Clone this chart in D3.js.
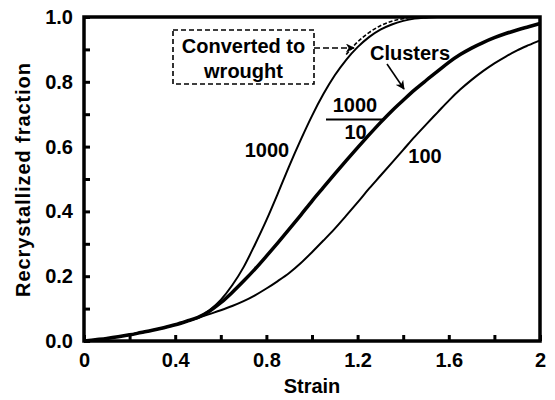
<!DOCTYPE html>
<html>
<head>
<meta charset="utf-8">
<script src="https://cdn.jsdelivr.net/npm/d3@7"></script>
<style>
  html, body { margin: 0; padding: 0; background: #fff; }
  svg { display: block; }
  text { font-family: "Liberation Sans", Arial, sans-serif; font-weight: bold; fill: #000; }
</style>
</head>
<body>
<svg id="chart" width="555" height="400"></svg>
<script>
// Strain grid shared by the three recrystallization curves
const strain = [0, 0.05, 0.1, 0.15, 0.2, 0.25, 0.3, 0.35, 0.4, 0.45, 0.5,
                0.55, 0.6, 0.65, 0.7, 0.75, 0.8, 0.85, 0.9, 0.95, 1.0,
                1.05, 1.1, 1.15, 1.2, 1.25, 1.3, 1.35, 1.4, 1.45, 1.5,
                1.55, 1.6, 1.65, 1.7, 1.75, 1.8, 1.85, 1.9, 1.95, 2.0];

// Recrystallized fraction for each grain-size ratio
const frac1000 = [0, 0.004, 0.008, 0.013, 0.019, 0.026, 0.033, 0.041, 0.05, 0.061, 0.073,
                  0.095, 0.127, 0.172, 0.228, 0.298, 0.373, 0.455, 0.54, 0.62, 0.695,
                  0.762, 0.82, 0.868, 0.907, 0.938, 0.961, 0.977, 0.988, 0.995, 0.998,
                  1.0, 1.0, 1.0, 1.0, 1.0, 1.0, 1.0, 1.0, 1.0, 1.0];
const frac1000over10 = [0, 0.004, 0.008, 0.013, 0.019, 0.026, 0.033, 0.041, 0.05, 0.061, 0.073,
                        0.092, 0.118, 0.15, 0.185, 0.222, 0.262, 0.303, 0.345, 0.388, 0.432,
                        0.474, 0.516, 0.557, 0.597, 0.636, 0.674, 0.71, 0.743, 0.775, 0.804,
                        0.832, 0.86, 0.884, 0.904, 0.921, 0.936, 0.949, 0.96, 0.97, 0.98];
const frac100 = [0, 0.004, 0.008, 0.013, 0.019, 0.026, 0.033, 0.041, 0.05, 0.06, 0.071,
                 0.083, 0.095, 0.108, 0.123, 0.141, 0.162, 0.185, 0.21, 0.24, 0.274,
                 0.31, 0.347, 0.387, 0.428, 0.47, 0.51, 0.55, 0.59, 0.63, 0.668,
                 0.705, 0.742, 0.776, 0.806, 0.833, 0.857, 0.878, 0.897, 0.913, 0.928];

// "Converted to wrought" curve near full recrystallization
const wroughtStrain = [1.15, 1.2, 1.25, 1.3, 1.35, 1.4, 1.45];
const wroughtFrac   = [0.884, 0.923, 0.952, 0.973, 0.987, 0.995, 1.0];

// Axis ticks
const xTicks = [0, 0.2, 0.4, 0.6, 0.8, 1.0, 1.2, 1.4, 1.6, 1.8, 2.0];
const xTickLabels = ["0", "", "0.4", "", "0.8", "", "1.2", "", "1.6", "", "2"];
const yTicks = [0, 0.1, 0.2, 0.3, 0.4, 0.5, 0.6, 0.7, 0.8, 0.9, 1.0];
const yTickLabels = ["0.0", "", "0.2", "", "0.4", "", "0.6", "", "0.8", "", "1.0"];

const svg = d3.select("#chart");
const m = { left: 84, right: 540, top: 17, bottom: 341 };

const x = d3.scaleLinear().domain([0, 2]).range([m.left, m.right]);
const y = d3.scaleLinear().domain([0, 1]).range([m.bottom, m.top]);

// Arrow marker
svg.append("defs").append("marker")
  .attr("id", "arrow")
  .attr("viewBox", "0 0 10 10")
  .attr("refX", 9).attr("refY", 5)
  .attr("markerWidth", 9).attr("markerHeight", 9)
  .attr("markerUnits", "userSpaceOnUse")
  .attr("orient", "auto")
  .append("path")
  .attr("d", "M0,0 L10,5 L0,10 L3,5 Z")
  .attr("fill", "#000");

// Curves
const line = d3.line()
  .x(d => x(d[0]))
  .y(d => y(d[1]))
  .curve(d3.curveMonotoneX);

const series = [
  { vals: frac100, width: 2 },
  { vals: frac1000, width: 2 },
  { vals: frac1000over10, width: 3.5 }
];

svg.append("g").selectAll("path")
  .data(series)
  .join("path")
  .attr("d", s => line(strain.map((t, i) => [t, s.vals[i]])))
  .attr("fill", "none")
  .attr("stroke", "#000")
  .attr("stroke-width", s => s.width)
  .attr("stroke-linejoin", "round");

svg.append("path")
  .attr("d", line(wroughtStrain.map((t, i) => [t, wroughtFrac[i]])))
  .attr("fill", "none")
  .attr("stroke", "#000")
  .attr("stroke-width", 1.6)
  .attr("stroke-dasharray", "4,2");

// Axes: ticks point inward
const yAxis = d3.axisLeft(y)
  .tickValues(yTicks)
  .tickSize(-6)
  .tickPadding(11)
  .tickFormat((d, i) => yTickLabels[i]);
const xAxis = d3.axisBottom(x)
  .tickValues(xTicks)
  .tickSize(-6)
  .tickPadding(12)
  .tickFormat((d, i) => xTickLabels[i]);

const gy = svg.append("g").attr("transform", `translate(${m.left},0)`).call(yAxis);
const gx = svg.append("g").attr("transform", `translate(0,${m.bottom})`).call(xAxis);
[gx, gy].forEach(g => {
  g.select(".domain").remove();
  g.selectAll(".tick line").attr("stroke", "#000").attr("stroke-width", 3);
  g.selectAll(".tick text")
    .style("font-size", "20px")
    .style("font-family", "Liberation Sans, Arial, sans-serif")
    .style("font-weight", "bold");
});

// Frame
svg.append("rect")
  .attr("x", m.left).attr("y", m.top)
  .attr("width", m.right - m.left).attr("height", m.bottom - m.top)
  .attr("fill", "none")
  .attr("stroke", "#000")
  .attr("stroke-width", 3.5);

// Axis titles
svg.append("text")
  .attr("x", (m.left + m.right) / 2).attr("y", 393)
  .attr("text-anchor", "middle")
  .style("font-size", "20px")
  .text("Strain");
svg.append("text")
  .attr("transform", `translate(30,180) rotate(-90)`)
  .attr("text-anchor", "middle")
  .attr("textLength", 234)
  .attr("lengthAdjust", "spacing")
  .style("font-size", "20px")
  .text("Recrystallized fraction");

// Curve annotations
const label = (tx, ty, s) => svg.append("text")
  .attr("x", tx).attr("y", ty)
  .attr("text-anchor", "middle")
  .style("font-size", "20px")
  .text(s);

label(267, 157, "1000");
label(355, 112, "1000");
label(355.5, 139, "10");
svg.append("line")
  .attr("x1", 326).attr("x2", 383)
  .attr("y1", 119.5).attr("y2", 119.5)
  .attr("stroke", "#000").attr("stroke-width", 2);
label(425, 163, "100");
label(410, 60, "Clusters");
svg.append("line")
  .attr("x1", 387).attr("y1", 64)
  .attr("x2", 404).attr("y2", 89)
  .attr("stroke", "#000").attr("stroke-width", 1.6)
  .attr("marker-end", "url(#arrow)");

// Dashed callout box
svg.append("rect")
  .attr("x", 173).attr("y", 30)
  .attr("width", 141).attr("height", 54)
  .attr("fill", "none")
  .attr("stroke", "#000")
  .attr("stroke-width", 1.6)
  .attr("stroke-dasharray", "5,3");
label(243.5, 53, "Converted to");
label(243.5, 78, "wrought");
svg.append("line")
  .attr("x1", 314).attr("y1", 48)
  .attr("x2", 354).attr("y2", 48)
  .attr("stroke", "#000").attr("stroke-width", 1.6)
  .attr("stroke-dasharray", "6,3")
  .attr("marker-end", "url(#arrow)");
</script>
</body>
</html>
